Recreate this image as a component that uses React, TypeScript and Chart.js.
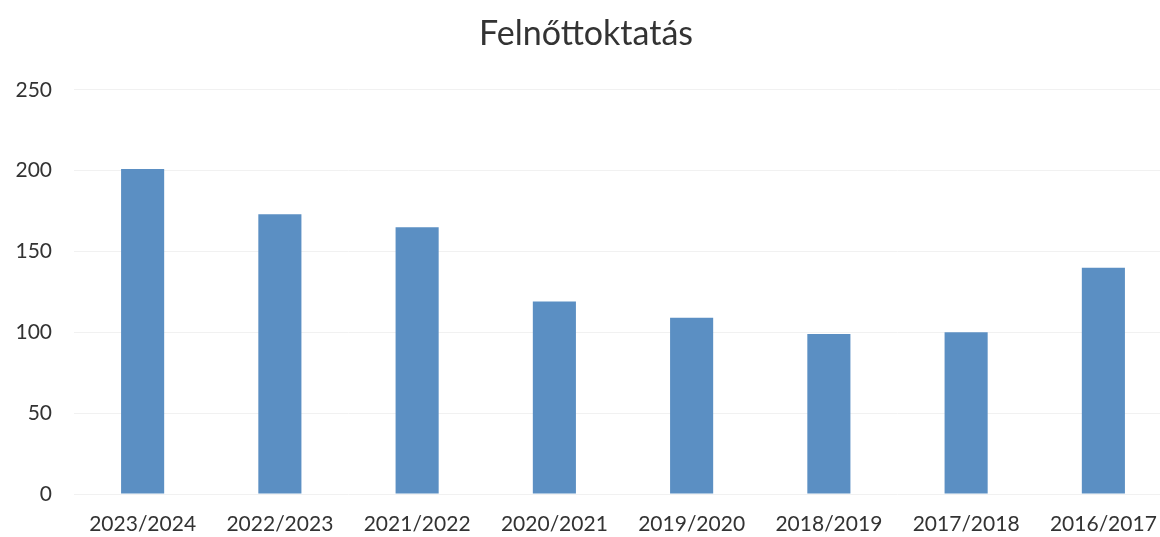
import React, { useEffect, useRef } from "react";
import { Chart, registerables } from "chart.js";

Chart.register(...registerables);

const categories = ["2023/2024", "2022/2023", "2021/2022", "2020/2021", "2019/2020", "2018/2019", "2017/2018", "2016/2017"];
const values = [201, 173, 165, 119, 109, 99, 100, 140];
const yTicks = [0, 50, 100, 150, 200, 250];
const title = "Felnőttoktatás";

export default function App() {
  const ref = useRef<HTMLCanvasElement | null>(null);
  useEffect(() => {
    if (!ref.current) return;
    const chart = new Chart(ref.current, {
      type: "bar",
      data: {
        labels: categories,
        datasets: [
          {
            data: values,
            backgroundColor: "#5b8fc3",
            borderWidth: 0,
            categoryPercentage: 1,
            barPercentage: 0.314,
          },
        ],
      },
      options: {
        animation: false,
        responsive: false,
        maintainAspectRatio: false,
        layout: { padding: { top: 0, right: 8, bottom: 0, left: 0 } },
        plugins: {
          legend: { display: false },
          tooltip: { enabled: false },
          title: {
            display: true,
            text: title,
            color: "#333333",
            font: { family: "Lato", size: 34, weight: "normal", lineHeight: 1.2 },
            padding: { top: 14, bottom: 35 },
          },
        },
        scales: {
          x: {
            afterFit: (s: any) => {
              s.height = 43;
            },
            grid: { display: false, drawTicks: false },
            border: { display: false },
            ticks: {
              color: "#333333",
              font: { family: "Lato", size: 21, lineHeight: 1.2 },
              padding: 18,
              maxRotation: 0,
              autoSkip: false,
            },
          },
          y: {
            min: 0,
            max: 250,
            afterFit: (s: any) => {
              s.width = 74;
            },
            afterBuildTicks: (s: any) => {
              s.ticks = yTicks.map((v) => ({ value: v }));
            },
            grid: { color: "#f1f1f1", drawTicks: false },
            border: { display: false },
            ticks: {
              color: "#333333",
              font: { family: "Lato", size: 21 },
              padding: 22,
            },
          },
        },
      },
    });
    return () => chart.destroy();
  }, []);
  return (
    <div style={{ position: "fixed", left: 0, top: 0, width: 1160, height: 537, overflow: "hidden", background: "#ffffff" }}>
      <canvas ref={ref} width={1180} height={537} style={{ display: "block", width: 1180, height: 537 }} />
    </div>
  );
}
